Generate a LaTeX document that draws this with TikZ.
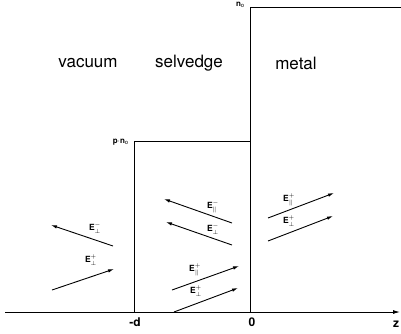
\documentclass[tikz,border=0pt]{standalone}
\usepackage{fontspec}
\setmainfont{TeX Gyre Heros}
\usepackage{tikz}
\usetikzlibrary{arrows.meta,positioning,calc}

\begin{document}
\begin{tikzpicture}[
    x=1pt, y=-1pt,
    every node/.style={inner sep=0pt, font=\bfseries\fontsize{8.5}{10}\selectfont},
    region/.style={font=\fontsize{17}{20}\selectfont},
    axlab/.style={font=\bfseries\fontsize{12}{14}\selectfont},
    level/.style={anchor=east, font=\bfseries\fontsize{8}{9}\selectfont},
    wave/.style={-{Latex[length=6pt,width=3.5pt]}, line width=0.9pt},
    prof/.style={line width=0.9pt},
  ]
  \useasboundingbox (0,0) rectangle (401,333);

  % profile of the refractive index: vacuum / selvedge / metal
  \coordinate (o)  at (5,312);
  \coordinate (zend) at (400,312);
  \coordinate (md) at (134,312);
  \coordinate (m0) at (250,312);
  \draw[prof] (md) |- (250,141) coordinate (step1) -- (m0);
  \draw[prof] (m0) |- (401,7) coordinate (step2);
  \draw[prof, -{Latex[length=7pt,width=4pt]}] (o) -- (zend);

  % axis and level labels
  \node[axlab] (ld) at (135,322) {-d};
  \node[axlab] (l0) at (252,322) {0};
  \node[axlab] (lz) at (396,324) {z};
  \node[level] (ln0) at (245,5) {n$_{\mathrm{o}}$};
  \node[level] (lpn0) at (129,142) {p$\cdot$n$_{\mathrm{o}}$};

  % region names
  \node[region] (vac) at (88,63)  {vacuum};
  \node[region] (sel) at (189,63) {selvedge};
  \node[region] (met) at (296,63) {metal};

  % vacuum waves
  \coordinate (va1) at (113,246); \coordinate (vb1) at (51,225);
  \coordinate (va2) at (52,290);  \coordinate (vb2) at (114,269);
  \draw[wave] (va1) -- (vb1);
  \draw[wave] (va2) -- (vb2);
  \node (lv1) at (95,228) {E$^{-}_{\perp}$};
  \node (lv2) at (91,260) {E$^{+}_{\perp}$};

  % selvedge waves
  \coordinate (sa1) at (232,223); \coordinate (sb1) at (164,199);
  \coordinate (sa2) at (232,245); \coordinate (sb2) at (166,222);
  \coordinate (sa3) at (172,290); \coordinate (sb3) at (239,266);
  \coordinate (sa4) at (174,312); \coordinate (sb4) at (238,288);
  \draw[wave] (sa1) -- (sb1);
  \draw[wave] (sa2) -- (sb2);
  \draw[wave] (sa3) -- (sb3);
  \draw[wave] (sa4) -- (sb4);
  \node (ls1) at (213,207) {E$^{-}_{\parallel}$};
  \node (ls2) at (213,229) {E$^{-}_{\perp}$};
  \node (ls3) at (195,270) {E$^{+}_{\parallel}$};
  \node (ls4) at (196,291) {E$^{+}_{\perp}$};

  % metal waves
  \coordinate (ma1) at (268,218); \coordinate (mb1) at (334,193);
  \coordinate (ma2) at (268,241); \coordinate (mb2) at (333,216);
  \draw[wave] (ma1) -- (mb1);
  \draw[wave] (ma2) -- (mb2);
  \node (lm1) at (289,200) {E$^{+}_{\parallel}$};
  \node (lm2) at (289,221) {E$^{+}_{\perp}$};
\end{tikzpicture}
\end{document}
